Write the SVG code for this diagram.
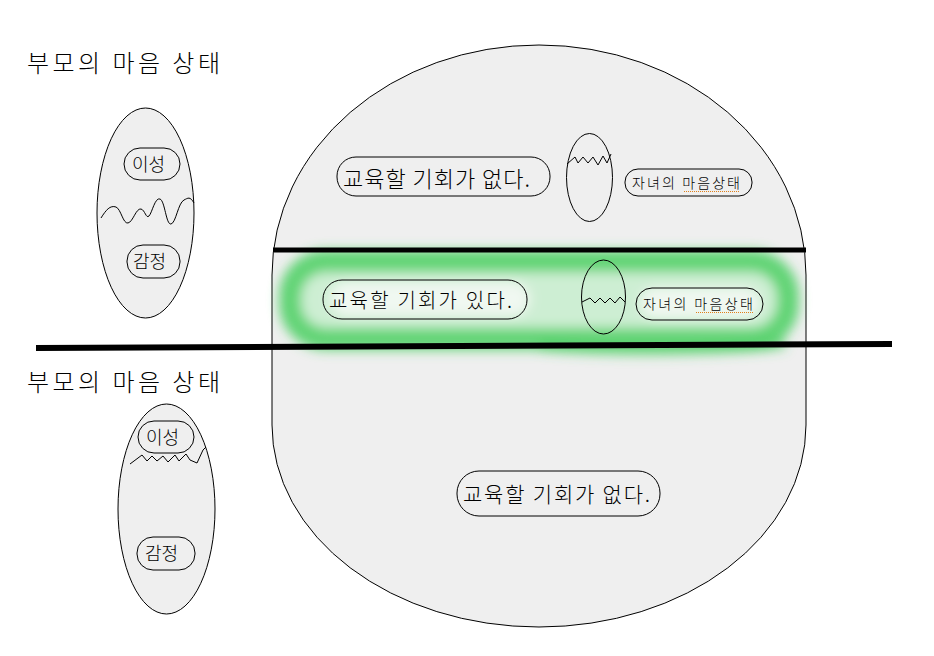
<svg xmlns="http://www.w3.org/2000/svg" width="934" height="656" viewBox="0 0 934 656">
<style>
  .shape { fill: #efefef; stroke: #000; stroke-width: 1; }
  .pill { fill: #efefef; stroke: #000; stroke-width: 1; }
  .pillc { fill: none; stroke: #000; stroke-width: 1; }
  .t { font-family: "Noto Sans CJK KR", "Noto Sans", sans-serif; font-weight: 300; fill: #000; }
  .wave { fill: none; stroke: #000; stroke-width: 1; }
  .bar { stroke: #000; fill: none; }
  .spell { stroke: #e0801a; stroke-width: 1; stroke-dasharray: 1 1; }
</style>
<defs>
  <filter id="blur" x="-10%" y="-50%" width="120%" height="200%">
    <feGaussianBlur stdDeviation="6"/>
  </filter>
</defs>
<rect width="934" height="656" fill="#ffffff"/>

<g id="title1"><text class="t" x="27" y="72" font-size="24" textLength="193" lengthAdjust="spacing">부모의 마음 상태</text></g>
<g id="title2"><text class="t" x="27" y="391" font-size="24" textLength="193" lengthAdjust="spacing">부모의 마음 상태</text></g>

<g id="parent1">
  <ellipse class="shape" cx="145.5" cy="213" rx="48.5" ry="105"/>
  <path class="wave" d="M101,218 C106,210 110,205 116,207 C121,209 123,224 128,223 C133,222 136,208 141,209 C145,210 146,219 149,216 C152,213 155,197 160,199 C165,201 166,225 171,224 C176,223 178,203 184,200 C188,198 190,196 194,203"/>
  <rect class="pill" x="124" y="148" width="56" height="32" rx="16"/>
  <text class="t" x="132" y="171" font-size="18">이성</text>
  <rect class="pill" x="127" y="245" width="53" height="33" rx="16"/>
  <text class="t" x="133" y="268" font-size="18">감정</text>
</g>

<g id="parent2">
  <ellipse class="shape" cx="166.5" cy="509" rx="48.5" ry="105"/>
  <path class="wave" d="M130,464 L142,455 L147,461 L152,456 L157,461 L163,456 L168,462 L175,455 L179,461 L186,454 L190,460 L197,463 L203,450 L206,447"/>
  <rect class="pill" x="138" y="421" width="56" height="32" rx="16"/>
  <text class="t" x="146" y="444" font-size="18">이성</text>
  <rect class="pill" x="137" y="537" width="58" height="33" rx="16"/>
  <text class="t" x="145" y="560" font-size="18">감정</text>
</g>

<g id="big">
  <path class="shape" d="M272,275 A267,230 0 0 1 806,275 L806,425 A267,202 0 0 1 272,425 Z"/>
</g>

<g id="highlight" filter="url(#blur)">
  <rect x="290" y="261" width="498" height="78" rx="36" fill="#cdeed3" stroke="#3fcd59" stroke-width="22" stroke-opacity="0.8"/>
  <rect x="330" y="282" width="200" height="34" rx="17" fill="#f0f8f1"/>
  <rect x="640" y="288" width="120" height="30" rx="15" fill="#f0f8f1"/>
  <path d="M540,346 Q660,356 785,344" stroke="#3fcd59" stroke-width="10" stroke-opacity="0.6" fill="none"/>
</g>

<g id="row1">
  <rect class="pill" x="337" y="157" width="213" height="39" rx="19"/>
  <text class="t" x="343" y="187" font-size="22" textLength="187" lengthAdjust="spacing">교육할 기회가 없다.</text>
  <ellipse class="shape" cx="589.5" cy="177.5" rx="23" ry="44"/>
  <path class="wave" d="M567,164 L575,157 L578,163 L583,157 L588,163 L593,157 L598,165 L603,156 L607,163 L611,154"/>
  <rect class="pill" x="625" y="169" width="127" height="27" rx="13"/>
  <text class="t" x="632" y="188" font-size="14" textLength="108" lengthAdjust="spacing">자녀의 마음상태</text>
  <line class="spell" x1="684" y1="191.5" x2="740" y2="191.5"/>
</g>

<g id="row2">
  <rect class="pillc" x="323" y="280" width="204" height="39" rx="19"/>
  <text class="t" x="329" y="308" font-size="20" textLength="183" lengthAdjust="spacing">교육할 기회가 있다.</text>
  <ellipse class="pillc" cx="603.5" cy="297" rx="22" ry="37"/>
  <path class="wave" d="M582,302 L590,298 L595,303 L600,298 L605,303 L610,298 L615,303 L620,297 L625,302"/>
  <rect class="pillc" x="636" y="288" width="127" height="32" rx="16"/>
  <text class="t" x="643" y="309" font-size="14" textLength="110" lengthAdjust="spacing">자녀의 마음상태</text>
  <line class="spell" x1="696" y1="312.5" x2="753" y2="312.5"/>
</g>

<g id="row3">
  <rect class="pill" x="457" y="471" width="203" height="45" rx="22"/>
  <text class="t" x="463" y="502" font-size="21" textLength="187" lengthAdjust="spacing">교육할 기회가 없다.</text>
</g>

<g id="connectors">
  <line class="bar" x1="273" y1="250" x2="806" y2="250" stroke-width="5"/>
  <line class="bar" x1="36" y1="348" x2="892" y2="344" stroke-width="6"/>
</g>
</svg>
